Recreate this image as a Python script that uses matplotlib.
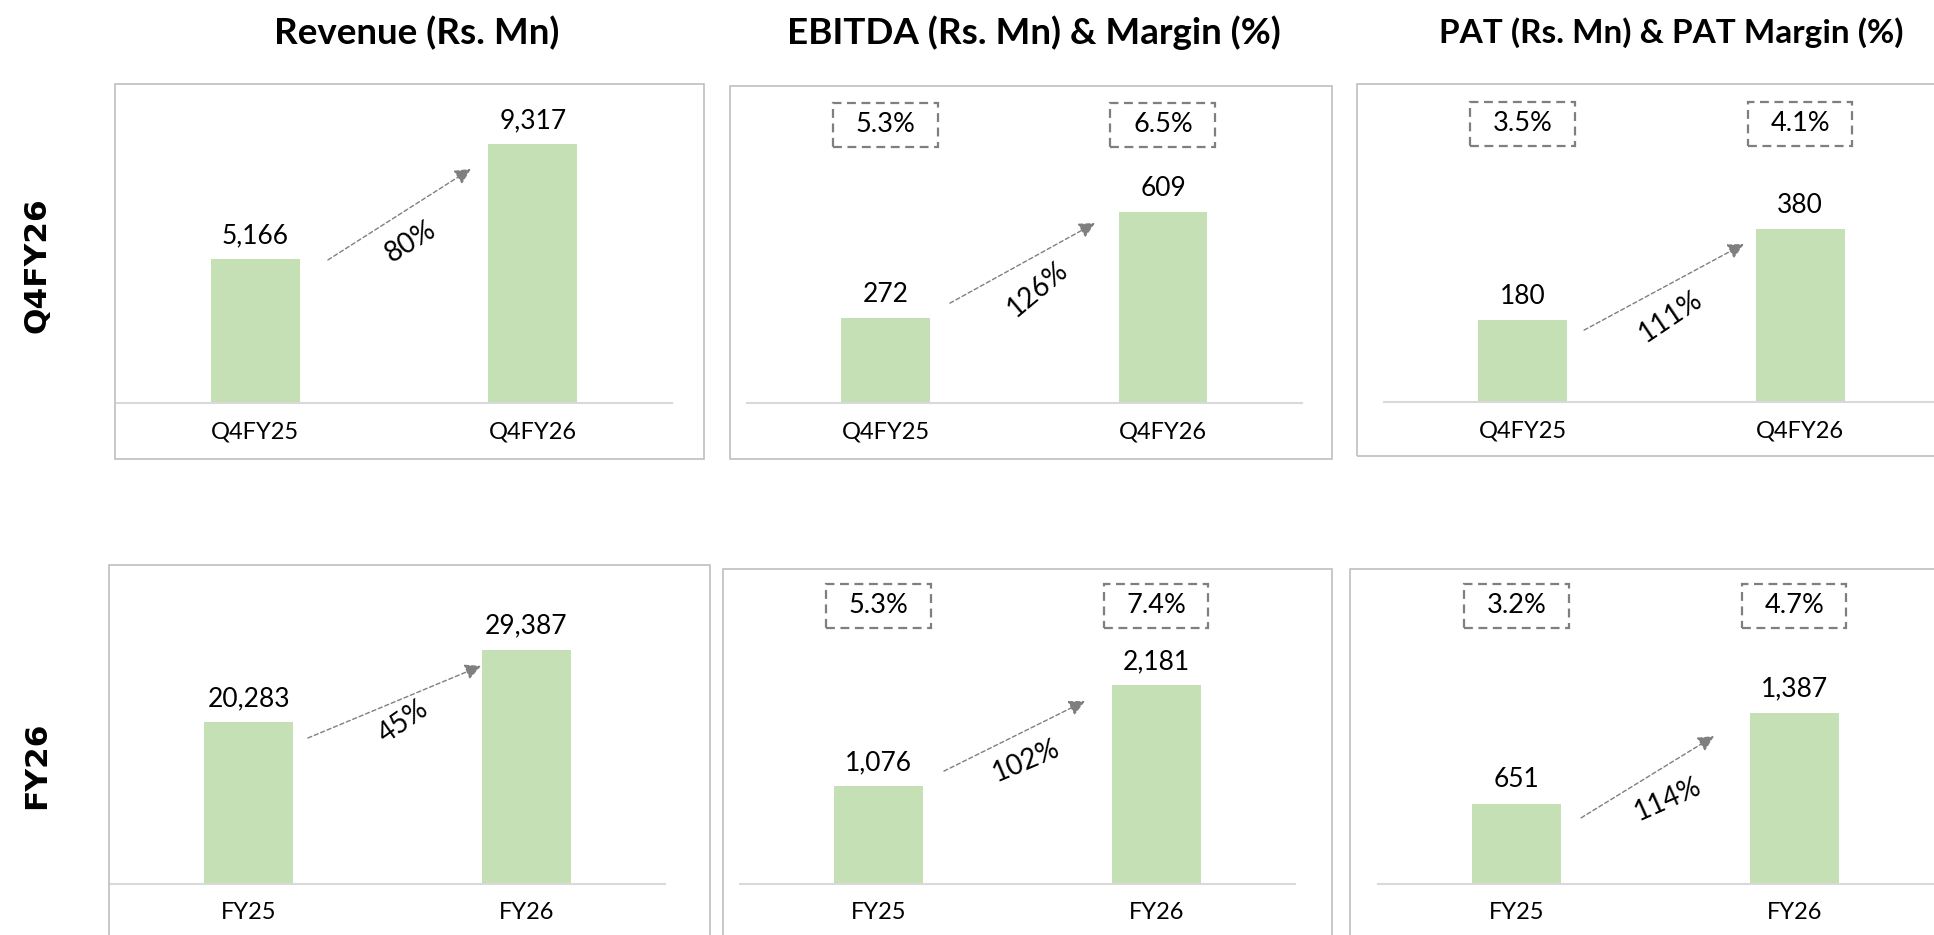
import matplotlib
matplotlib.use('Agg')
import matplotlib.pyplot as plt
from matplotlib.patches import Rectangle
from matplotlib.transforms import blended_transform_factory

plt.rcParams['font.family'] = ['Lato', 'DejaVu Sans']

# ---- data ----
quarter_labels = ['Q4FY25', 'Q4FY26']
year_labels = ['FY25', 'FY26']

revenue_q = [5166, 9317]
ebitda_q = [272, 609]
pat_q = [180, 380]

revenue_fy = [20283, 29387]
ebitda_fy = [1076, 2181]
pat_fy = [651, 1387]

ebitda_margin_q = [5.3, 6.5]
pat_margin_q = [3.5, 4.1]
ebitda_margin_fy = [5.3, 7.4]
pat_margin_fy = [3.2, 4.7]

growth_q = [80, 126, 111]
growth_fy = [45, 102, 114]

col_titles = ['Revenue (Rs. Mn)', 'EBITDA (Rs. Mn) & Margin (%)', 'PAT (Rs. Mn) & PAT Margin (%)']
row_titles = ['Q4FY26', 'FY26']

# ---- layout (pixels of a 1934x935 canvas) ----
W, H = 1934, 935
AX_W, AX_H = 555, 318
BAR_GREEN = '#C5E0B4'
GREY = '#7F7F7F'

panels = [
    dict(vals=revenue_q, cats=quarter_labels, margin=None, growth=growth_q[0],
         box=(115, 84, 704, 459), left=116.5, base=403, ymax=11440,
         arrow=(0.262, 0.45, 0.777, 0.736), glabel=(0.561, 0.506, 32)),
    dict(vals=ebitda_q, cats=quarter_labels, margin=ebitda_margin_q, growth=growth_q[1],
         box=(730, 86, 1332, 459), left=746.8, base=403, ymax=1014,
         arrow=(0.232, 0.314, 0.755, 0.566), glabel=(0.549, 0.358, 40)),
    dict(vals=pat_q, cats=quarter_labels, margin=pat_margin_q, growth=growth_q[2],
         box=(1357, 84, 1950, 456), left=1384, base=402, ymax=700,
         arrow=(0.221, 0.226, 0.797, 0.497), glabel=(0.534, 0.267, 34)),
    dict(vals=revenue_fy, cats=year_labels, margin=None, growth=growth_fy[0],
         box=(109, 565, 710, 950), left=110, base=884, ymax=39900,
         arrow=(0.213, 0.459, 0.837, 0.686), glabel=(0.556, 0.509, 35)),
    dict(vals=ebitda_fy, cats=year_labels, margin=ebitda_margin_fy, growth=growth_fy[1],
         box=(723, 569, 1332, 950), left=740, base=884, ymax=3491,
         arrow=(0.235, 0.355, 0.743, 0.575), glabel=(0.531, 0.387, 23)),
    dict(vals=pat_fy, cats=year_labels, margin=pat_margin_fy, growth=growth_fy[2],
         box=(1350, 569, 1950, 950), left=1378, base=884, ymax=2573,
         arrow=(0.232, 0.208, 0.711, 0.465), glabel=(0.545, 0.267, 24)),
]

fig = plt.figure(figsize=(W / 100, H / 100), dpi=100)

for p in panels:
    # outer frame of the panel
    x0, y0, x1, y1 = p['box']
    fig.add_artist(Rectangle((x0 / W, 1 - y1 / H), (x1 - x0) / W, (y1 - y0) / H,
                             transform=fig.transFigure, fill=False,
                             ec='#BFBFBF', lw=1.2))

    ax = fig.add_axes([p['left'] / W, 1 - p['base'] / H, AX_W / W, AX_H / H])
    ax.set_facecolor('none')
    xs = range(len(p['vals']))
    ax.bar(xs, p['vals'], width=0.32, color=BAR_GREEN)
    ax.set_xlim(-0.5, 1.5)
    ax.set_ylim(0, p['ymax'])

    for s in ['top', 'left', 'right']:
        ax.spines[s].set_visible(False)
    ax.spines['bottom'].set_color('#D9D9D9')
    ax.spines['bottom'].set_linewidth(1.5)
    ax.set_yticks([])
    ax.set_xticks(list(xs))
    ax.set_xticklabels(p['cats'])
    ax.tick_params(axis='x', length=0, pad=13, labelsize=17)

    # value labels
    for i, v in enumerate(p['vals']):
        ax.annotate(f'{v:,}', (i, v), xytext=(0, 17), textcoords='offset points',
                    ha='center', va='center', fontsize=19)

    trans = blended_transform_factory(ax.transData, ax.transAxes)

    # margin boxes
    if p['margin'] is not None:
        for i, m in enumerate(p['margin']):
            ax.add_patch(Rectangle((i - 0.19, 0.875 - 0.069), 0.378, 0.138,
                                   transform=trans, fill=False, ec=GREY,
                                   lw=1.6, ls=(0, (4, 2.5)), clip_on=False))
            ax.text(i, 0.875, f'{m:.1f}%', transform=trans, ha='center',
                    va='center', fontsize=19.5)

    # growth arrow + label
    ax0, ay0, ax1, ay1 = p['arrow']
    ax.annotate('', xy=(ax1, ay1), xytext=(ax0, ay0),
                xycoords=trans, textcoords=trans,
                arrowprops=dict(arrowstyle='-|>', color=GREY, lw=1, ls=(0, (3, 2)),
                                mutation_scale=24, shrinkA=0, shrinkB=0))
    gx, gy, rot = p['glabel']
    ax.text(gx, gy, f"{p['growth']}%", transform=trans, rotation=rot,
            rotation_mode='anchor', ha='center', va='center', fontsize=20)

# column titles
for x, t, fs in zip([417, 1034, 1671], col_titles, [26.5, 26.5, 24]):
    fig.text(x / W, 1 - 33 / H, t, ha='center', va='center',
             fontsize=fs, fontweight='bold')

# row titles
for y, t in zip([265, 765], row_titles):
    fig.text(37 / W, 1 - y / H, t, rotation=90, ha='center', va='center',
             fontsize=22.5, fontweight='bold', family='DejaVu Sans')

fig.savefig('out.png', dpi=100)
